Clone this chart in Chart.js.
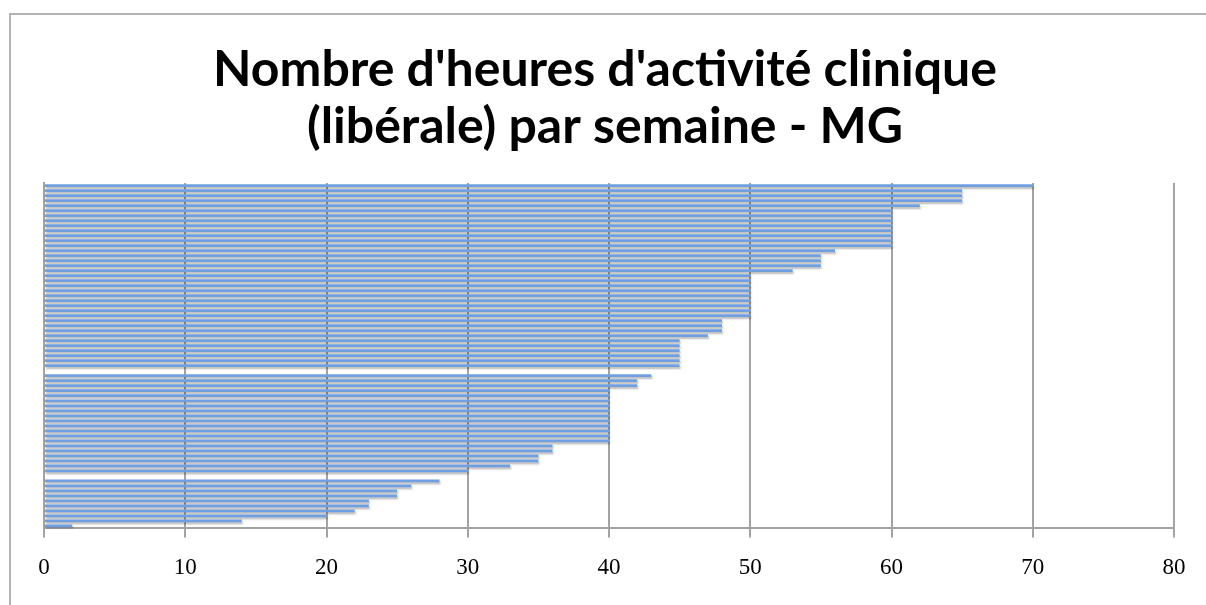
<!DOCTYPE html>
<html>
<head>
<meta charset="utf-8">
<script src="https://cdn.jsdelivr.net/npm/chart.js@4/dist/chart.umd.min.js"></script>
<style>
  html, body { margin: 0; padding: 0; background: #fff; overflow: hidden; }
  #frame {
    position: absolute; left: 9px; top: 13px;
    width: 1250px; height: 650px;
    border-left: 2px solid #b3b3b3; border-top: 2px solid #b3b3b3;
  }
  #wrap { position: absolute; left: 11px; top: 15px; width: 1202px; height: 590px; }
</style>
</head>
<body>
<div id="frame"></div>
<div id="wrap"><canvas id="hoursChart"></canvas></div>
<script>
// one bar per respondent, sorted from the top (two blank rows in the source)
const hours = [
  70, 65, 65, 65, 62,
  60, 60, 60, 60, 60, 60, 60, 60,
  56, 55, 55, 55, 53,
  50, 50, 50, 50, 50, 50, 50, 50, 50,
  48, 48, 48, 47,
  45, 45, 45, 45, 45, 45,
  null,
  43, 42, 42,
  40, 40, 40, 40, 40, 40, 40, 40, 40, 40, 40,
  36, 36, 35, 35, 33, 30,
  null,
  28, 26, 25, 25, 23, 23, 22, 20, 14, 2
];
const rows = hours.map((_, i) => String(i + 1));
const xTicks = [0, 10, 20, 30, 40, 50, 60, 70, 80];
const titleLines = ["Nombre d'heures d'activité clinique", "(libérale) par semaine - MG"];

// soft grey shadow under each bar, like the office chart
const barShadow = {
  id: "barShadow",
  beforeDatasetsDraw(chart) {
    const ctx = chart.ctx;
    ctx.save();
    ctx.shadowColor = "rgba(0, 0, 0, 0.28)";
    ctx.shadowOffsetX = 1;
    ctx.shadowOffsetY = 2;
    ctx.shadowBlur = 2;
  },
  afterDatasetsDraw(chart) {
    chart.ctx.restore();
  },
};

new Chart(document.getElementById("hoursChart"), {
  type: "bar",
  data: {
    labels: rows,
    datasets: [
      {
        data: hours,
        backgroundColor: "#6f9fe0",
        borderWidth: 0,
        categoryPercentage: 1,
        barPercentage: 0.55,
      },
    ],
  },
  options: {
    indexAxis: "y",
    responsive: true,
    maintainAspectRatio: false,
    animation: false,
    layout: { padding: { left: 25, right: 39, top: 0, bottom: 6 } },
    plugins: {
      legend: { display: false },
      tooltip: { enabled: false },
      title: {
        display: true,
        text: titleLines,
        color: "#000",
        font: { family: "Lato", size: 50, weight: "bold", lineHeight: 1.15 },
        padding: { top: 26, bottom: 27 },
      },
    },
    scales: {
      x: {
        min: 0,
        max: 80,
        afterBuildTicks: (axis) => {
          axis.ticks = xTicks.map((v) => ({ value: v }));
        },
        grid: { color: "#a3a3a3", lineWidth: 2, tickLength: 9 },
        border: { color: "#a3a3a3", width: 2 },
        ticks: {
          color: "#000",
          padding: 17,
          font: { family: "Liberation Serif", size: 23 },
        },
      },
      y: {
        grid: { display: false },
        border: { color: "#a3a3a3", width: 2 },
        ticks: { display: false },
      },
    },
  },
  plugins: [barShadow],
});
</script>
</body>
</html>
